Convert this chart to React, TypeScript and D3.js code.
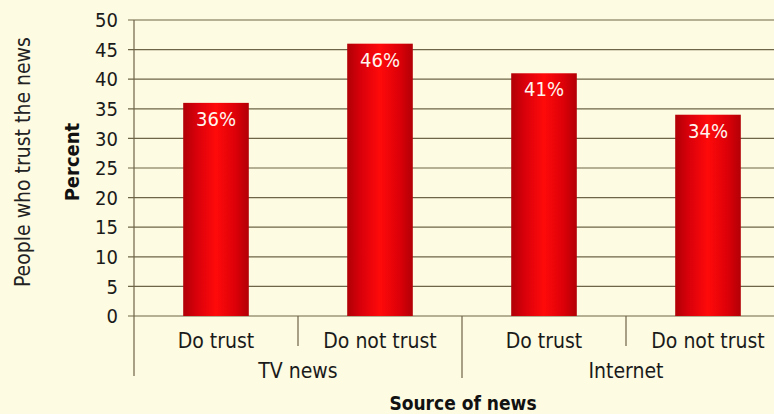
import React from "react";
import * as d3 from "d3";

const categories = ["Do trust", "Do not trust", "Do trust", "Do not trust"];
const groups = ["TV news", "Internet"];
const values = [36, 46, 41, 34];
const valueLabels = ["36%", "46%", "41%", "34%"];
const yTicks = [0, 5, 10, 15, 20, 25, 30, 35, 40, 45, 50];

const W = 774;
const H = 414;
const FONT = "'Liberation Sans Narrow', 'DejaVu Sans Condensed', 'Roboto Condensed', sans-serif";

export default function App() {
  const left = 134;
  const top = 20;
  const bottom = 316;
  const right = 790;
  const y = d3.scaleLinear().domain([0, 50]).range([bottom, top]);
  const x = d3
    .scaleBand<number>()
    .domain(d3.range(categories.length))
    .range([left, right])
    .paddingInner(0.6)
    .paddingOuter(0.3);
  const band = (right - left) / categories.length;
  const grid = "#6e6448";

  return (
    <svg
      width={W}
      height={H}
      style={{ position: "absolute", left: 0, top: 0, background: "#fdfbe1" }}
      fontFamily={FONT}
    >
      <defs>
        <linearGradient id="barGrad" x1="0" x2="1" y1="0" y2="0">
          <stop offset="0%" stopColor="#b00006" />
          <stop offset="20%" stopColor="#d8000a" />
          <stop offset="50%" stopColor="#ff0a0a" />
          <stop offset="80%" stopColor="#dc0008" />
          <stop offset="100%" stopColor="#b20006" />
        </linearGradient>
      </defs>
      <rect x={0} y={0} width={W} height={H} fill="#fdfbe1" />
      {yTicks.map((t) => (
        <g key={t}>
          <line x1={left - 6} x2={W} y1={y(t)} y2={y(t)} stroke={grid} strokeWidth={1.2} />
          <text
            x={118}
            y={y(t)}
            dy="0.36em"
            textAnchor="end"
            fontSize={20}
            fill="#1a1a1a"
          >
            {t}
          </text>
        </g>
      ))}
      <line x1={left} x2={left} y1={top} y2={376} stroke={grid} strokeWidth={1.2} />
      {d3.range(1, categories.length).map((i) => (
        <line
          key={i}
          x1={left + band * i}
          x2={left + band * i}
          y1={bottom}
          y2={i === 2 ? 378 : 346}
          stroke={grid}
          strokeWidth={1.2}
        />
      ))}
      {values.map((v, i) => (
        <g key={i}>
          <rect
            x={x(i)!}
            y={y(v)}
            width={x.bandwidth()}
            height={bottom - y(v)}
            fill="url(#barGrad)"
          />
          <text
            x={x(i)! + x.bandwidth() / 2}
            y={y(v) + 23}
            textAnchor="middle"
            fontSize={20}
            fill="#fff6f0"
          >
            {valueLabels[i]}
          </text>
          <text
            x={left + band * (i + 0.5)}
            y={348}
            textAnchor="middle"
            fontSize={21}
            fill="#1a1a1a"
          >
            {categories[i]}
          </text>
        </g>
      ))}
      {groups.map((g, gi) => (
        <text
          key={g}
          x={left + band * (gi * 2 + 1)}
          y={378}
          textAnchor="middle"
          fontSize={21}
          fill="#1a1a1a"
        >
          {g}
        </text>
      ))}
      <text x={463} y={410} textAnchor="middle" fontSize={19} fontWeight="bold" fill="#111">
        Source of news
      </text>
      <text
        transform={`translate(79, ${y(26)}) rotate(-90)`}
        textAnchor="middle"
        fontSize={20}
        fontWeight="bold"
        fill="#111"
      >
        Percent
      </text>
      <text
        transform={`translate(30, ${y(26)}) rotate(-90)`}
        textAnchor="middle"
        fontSize={21}
        fill="#222"
      >
        People who trust the news
      </text>
    </svg>
  );
}
